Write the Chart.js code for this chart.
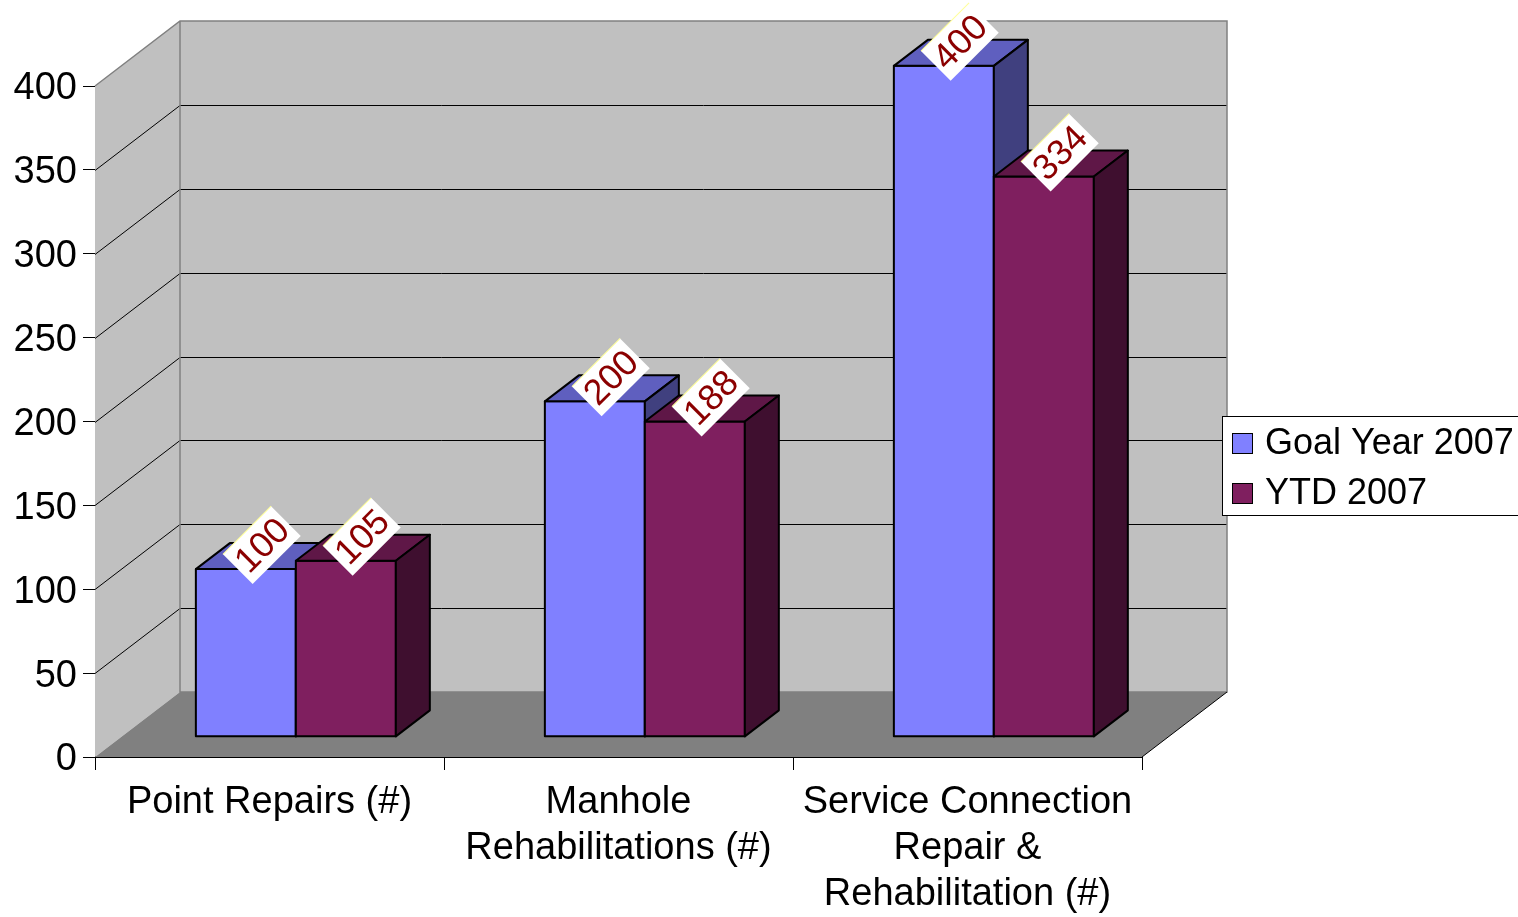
<!DOCTYPE html>
<html lang="en">
<head>
<meta charset="UTF-8">
<title>Sewer Rehabilitation Goals 2007</title>
<script src="https://cdn.jsdelivr.net/npm/chart.js@4.4.2/dist/chart.umd.min.js"></script>
<style>
  body { margin: 0; background: #fff; }
  #chart { display: block; }
</style>
</head>
<body>
<canvas id="chart" width="1518" height="917"></canvas>
<script>
  const categories = [
    'Point Repairs (#)',
    ['Manhole', 'Rehabilitations (#)'],
    ['Service Connection', 'Repair &', 'Rehabilitation (#)']
  ];
  const seriesNames = ['Goal Year 2007', 'YTD 2007'];
  const goalValues = [100, 200, 400];
  const ytdValues = [105, 188, 334];
  const yMin = 0, yMax = 400, yStep = 50;

  // depth of the box (back wall offset from the front axes) and where bars sit in it
  const depth = { dx: 85, dy: -65 };
  const barNear = 0.31, barFar = 0.71;
  const FONT = '"Liberation Sans", Arial, sans-serif';

  function poly(ctx, pts) {
    ctx.beginPath();
    ctx.moveTo(pts[0], pts[1]);
    for (let i = 2; i < pts.length; i += 2) ctx.lineTo(pts[i], pts[i + 1]);
    ctx.closePath();
  }

  const box3d = {
    id: 'box3d',
    beforeDatasetsDraw(chart) {
      const { ctx, chartArea: a, scales: { y } } = chart;
      const bx = depth.dx, by = depth.dy;
      ctx.save();
      // left wall + back wall
      ctx.fillStyle = '#c0c0c0';
      poly(ctx, [a.left, a.bottom, a.left + bx, a.bottom + by, a.left + bx, a.top + by, a.left, a.top]);
      ctx.fill();
      ctx.fillRect(a.left + bx, a.top + by, a.right - a.left, a.bottom - a.top);
      // floor
      ctx.fillStyle = '#808080';
      poly(ctx, [a.left, a.bottom, a.right, a.bottom, a.right + bx, a.bottom + by, a.left + bx, a.bottom + by]);
      ctx.fill();
      // gridlines running along the left wall and the back wall
      ctx.strokeStyle = '#000';
      ctx.lineWidth = 1;
      y.ticks.forEach(t => {
        if (t.value <= y.min || t.value >= y.max) return;
        const py = Math.round(y.getPixelForValue(t.value)) + 0.5;
        ctx.beginPath();
        ctx.moveTo(a.left, py);
        ctx.lineTo(a.left + bx, py + by);
        ctx.lineTo(a.right + bx, py + by);
        ctx.stroke();
      });
      // wall edges
      ctx.strokeStyle = '#808080';
      ctx.lineWidth = 1.5;
      ctx.beginPath();
      ctx.moveTo(a.left, a.top);
      ctx.lineTo(a.left + bx, a.top + by);
      ctx.lineTo(a.right + bx, a.top + by);
      ctx.lineTo(a.right + bx, a.bottom + by);
      ctx.lineTo(a.left + bx, a.bottom + by);
      ctx.lineTo(a.left + bx, a.top + by);
      ctx.stroke();
      ctx.strokeStyle = '#000';
      ctx.lineWidth = 1;
      ctx.beginPath();
      ctx.moveTo(a.right, a.bottom);
      ctx.lineTo(a.right + bx, a.bottom + by);
      ctx.stroke();
      ctx.restore();
    },
    // bars are drawn below, category by category, so that later bars hide earlier side faces
    beforeDatasetDraw() {
      return false;
    },
    afterDatasetsDraw(chart) {
      const ctx = chart.ctx;
      const metas = chart.data.datasets.map((ds, i) => chart.getDatasetMeta(i));
      const ox = depth.dx * (barFar - barNear), oy = depth.dy * (barFar - barNear);
      ctx.save();
      ctx.translate(depth.dx * barNear, depth.dy * barNear);
      ctx.lineJoin = 'round';
      chart.data.labels.forEach((lbl, j) => {
        metas.forEach((meta, i) => {
          const ds = chart.data.datasets[i];
          const bar = meta.data[j];
          bar.draw(ctx);
          const { x, y, base, width } = bar.getProps(['x', 'y', 'base', 'width'], true);
          const l = x - width / 2, r = x + width / 2;
          ctx.lineWidth = 2;
          ctx.strokeStyle = '#000';
          ctx.strokeRect(l, y, width, base - y);
          ctx.fillStyle = ds.topColor;
          poly(ctx, [l, y, r, y, r + ox, y + oy, l + ox, y + oy]);
          ctx.fill(); ctx.stroke();
          ctx.fillStyle = ds.sideColor;
          poly(ctx, [r, y, r + ox, y + oy, r + ox, base + oy, r, base]);
          ctx.fill(); ctx.stroke();
        });
      });
      ctx.restore();

      // value labels, tilted on top of each bar
      const lx = depth.dx * (barFar + barNear) / 2, ly = depth.dy * (barFar + barNear) / 2;
      ctx.save();
      ctx.font = '36px ' + FONT;
      ctx.textAlign = 'center';
      ctx.textBaseline = 'middle';
      chart.data.datasets.forEach((ds, i) => {
        metas[i].data.forEach((bar, j) => {
          const txt = String(ds.data[j]);
          const { x, y } = bar.getProps(['x', 'y'], true);
          const w = ctx.measureText(txt).width + 8, h = 42;
          ctx.save();
          ctx.translate(x + lx - 1, y + ly - 11);
          ctx.rotate(-Math.PI / 4);
          ctx.fillStyle = '#fff';
          ctx.fillRect(-w / 2, -h / 2, w, h);
          ctx.strokeStyle = '#ffff99';
          ctx.lineWidth = 1;
          ctx.beginPath();
          ctx.moveTo(-w / 2, -h / 2);
          ctx.lineTo(w / 2, -h / 2);
          ctx.stroke();
          ctx.fillStyle = '#8b0000';
          ctx.fillText(txt, 0, 2);
          ctx.restore();
        });
      });
      ctx.restore();
    },
    afterDraw(chart) {
      // legend box on the right
      const ctx = chart.ctx;
      ctx.save();
      ctx.fillStyle = '#fff';
      ctx.fillRect(1222, 416, 310, 100);
      ctx.strokeStyle = '#000';
      ctx.lineWidth = 1;
      ctx.strokeRect(1222.5, 416.5, 310, 99);
      ctx.font = '36px ' + FONT;
      ctx.textBaseline = 'middle';
      chart.data.datasets.forEach((ds, i) => {
        const cy = 443 + i * 50;
        ctx.fillStyle = ds.backgroundColor;
        ctx.fillRect(1232, cy - 10, 21, 21);
        ctx.strokeRect(1232.5, cy - 9.5, 20, 20);
        ctx.fillStyle = '#000';
        ctx.fillText(ds.label, 1265, cy + 1);
      });
      ctx.restore();
    }
  };

  new Chart(document.getElementById('chart'), {
    type: 'bar',
    data: {
      labels: categories,
      datasets: [
        { label: seriesNames[0], data: goalValues, backgroundColor: '#8080ff',
          topColor: '#5f5fbf', sideColor: '#40407f', borderWidth: 0 },
        { label: seriesNames[1], data: ytdValues, backgroundColor: '#7f1f5f',
          topColor: '#5f1747', sideColor: '#3f0f2f', borderWidth: 0 }
      ]
    },
    options: {
      responsive: false,
      animation: false,
      events: [],
      layout: { padding: { top: 86, right: 376, bottom: 0, left: 0 } },
      datasets: { bar: { categoryPercentage: 0.573, barPercentage: 1 } },
      plugins: { legend: { display: false }, tooltip: { enabled: false } },
      scales: {
        x: {
          afterFit: s => { s.height = 160; },
          grid: { drawOnChartArea: false, tickLength: 13, color: '#000' },
          border: { color: '#000', width: 1 },
          ticks: { color: '#000', padding: 10, maxRotation: 0, autoSkip: false,
                   font: { family: FONT, size: 38, lineHeight: 1.21 } }
        },
        y: {
          min: yMin, max: yMax,
          afterFit: s => { s.width = 95; },
          grid: { drawOnChartArea: false, tickLength: 12, color: '#000' },
          border: { color: '#000', width: 1 },
          ticks: { stepSize: yStep, color: '#000', padding: 6, labelOffset: 3,
                   font: { family: FONT, size: 38 } }
        }
      }
    },
    plugins: [box3d]
  });
</script>
</body>
</html>
